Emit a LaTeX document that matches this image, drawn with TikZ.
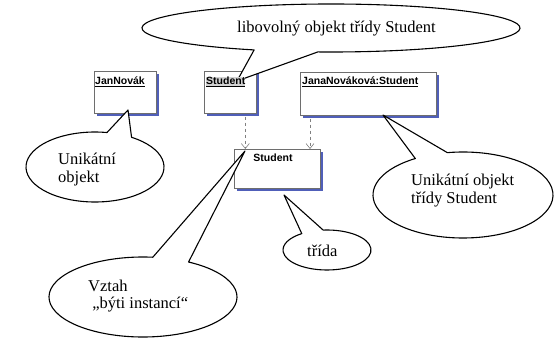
\documentclass[tikz,border=0pt]{standalone}
\usepackage{fontspec}
\setmainfont{Liberation Serif}
\newfontfamily\boxfont{Liberation Sans}
\usetikzlibrary{arrows.meta,backgrounds}
\definecolor{shadowblue}{RGB}{80,95,185}
\definecolor{boxline}{RGB}{110,110,110}
\begin{document}
\begin{tikzpicture}[x=1pt,y=-1pt,
  umlbox/.style={draw=boxline, line width=0.6pt, fill=white, inner sep=0pt, anchor=north west},
  boxshadow/.style={fill=shadowblue},
  boxlabel/.style={font=\boxfont\bfseries\fontsize{10.5}{12}\selectfont, inner sep=0pt, anchor=base west},
  calltext/.style={font=\fontsize{16.5}{17.5}\selectfont, inner sep=0pt, anchor=base west},
  callout/.style={draw=black, line width=1.1pt, fill=white, line join=round},
  instof/.style={draw=gray, dashed, line width=0.6pt, -{Straight Barb[length=5pt,width=8pt]}}
]
\useasboundingbox (0,0) rectangle (560,339);

% boxes
\node[umlbox, minimum width=62pt, minimum height=42pt] (jan) at (94,71) {};
\node[umlbox, minimum width=52pt, minimum height=42pt] (inst) at (204,71) {};
\node[umlbox, minimum width=136pt, minimum height=43pt] (jana) at (300,72) {};
\node[umlbox, minimum width=86pt, minimum height=39pt] (cls) at (234,149) {};

\begin{scope}[on background layer]
  \foreach \b in {jan,inst,jana,cls}
    \fill[boxshadow] ([shift={(2.6,3)}]\b.north west) rectangle ([shift={(2.6,2.6)}]\b.south east);
\end{scope}

% callouts
\draw[callout] (331,28) ++(114:189 and 24) arc[start angle=114, end angle=454, x radius=189, y radius=24] -- (237,81) -- cycle;
\draw[callout] (95,167) ++(-58:69 and 35) arc[start angle=-58, end angle=280, x radius=69, y radius=35] -- (128,110) -- cycle;
\draw[callout] (463,195) ++(-100:90 and 43) arc[start angle=-100, end angle=238, x radius=90, y radius=43] -- (383,115) -- cycle;
\draw[callout] (327,250) ++(-95:44 and 20) arc[start angle=-95, end angle=235, x radius=44, y radius=20] -- (284,195) -- cycle;
\draw[callout] (143,297) ++(-61:94 and 40) arc[start angle=-61, end angle=276, x radius=94, y radius=40] -- (245,151) -- cycle;

% callout texts
\node[calltext] (t0) at (237,33) {libovolný objekt třídy Student};
\node[calltext] (t1) at (58,165) {\begin{tabular}[t]{@{}l@{}}Unikátní\\objekt\end{tabular}};
\node[calltext] (t2) at (411,186) {\begin{tabular}[t]{@{}l@{}}Unikátní objekt\\třídy Student\end{tabular}};
\node[calltext] (t3) at (307,257) {třída};
\node[calltext] (t4) at (88,291) {\begin{tabular}[t]{@{}l@{}}Vztah\\\ „býti instancí“\end{tabular}};

% box labels
\node[boxlabel] (janL) at (95,85) {\underline{JanNovák}};
\node[boxlabel, fill=gray!35] (instL) at (206,85) {\underline{Student}};
\node[boxlabel] (janaL) at (302,85) {\underline{JanaNováková:Student}};
\node[boxlabel, anchor=base] (clsL) at (273,162) {Student};

% instance-of arrows
\draw[instof] ([xshift=15pt,yshift=-3pt]inst.south) -- ([xshift=15pt]inst.south |- cls.north);
\draw[instof] ([xshift=10pt,yshift=-3pt]jana.south west) -- ([xshift=10pt]jana.south west |- cls.north);
\end{tikzpicture}
\end{document}
